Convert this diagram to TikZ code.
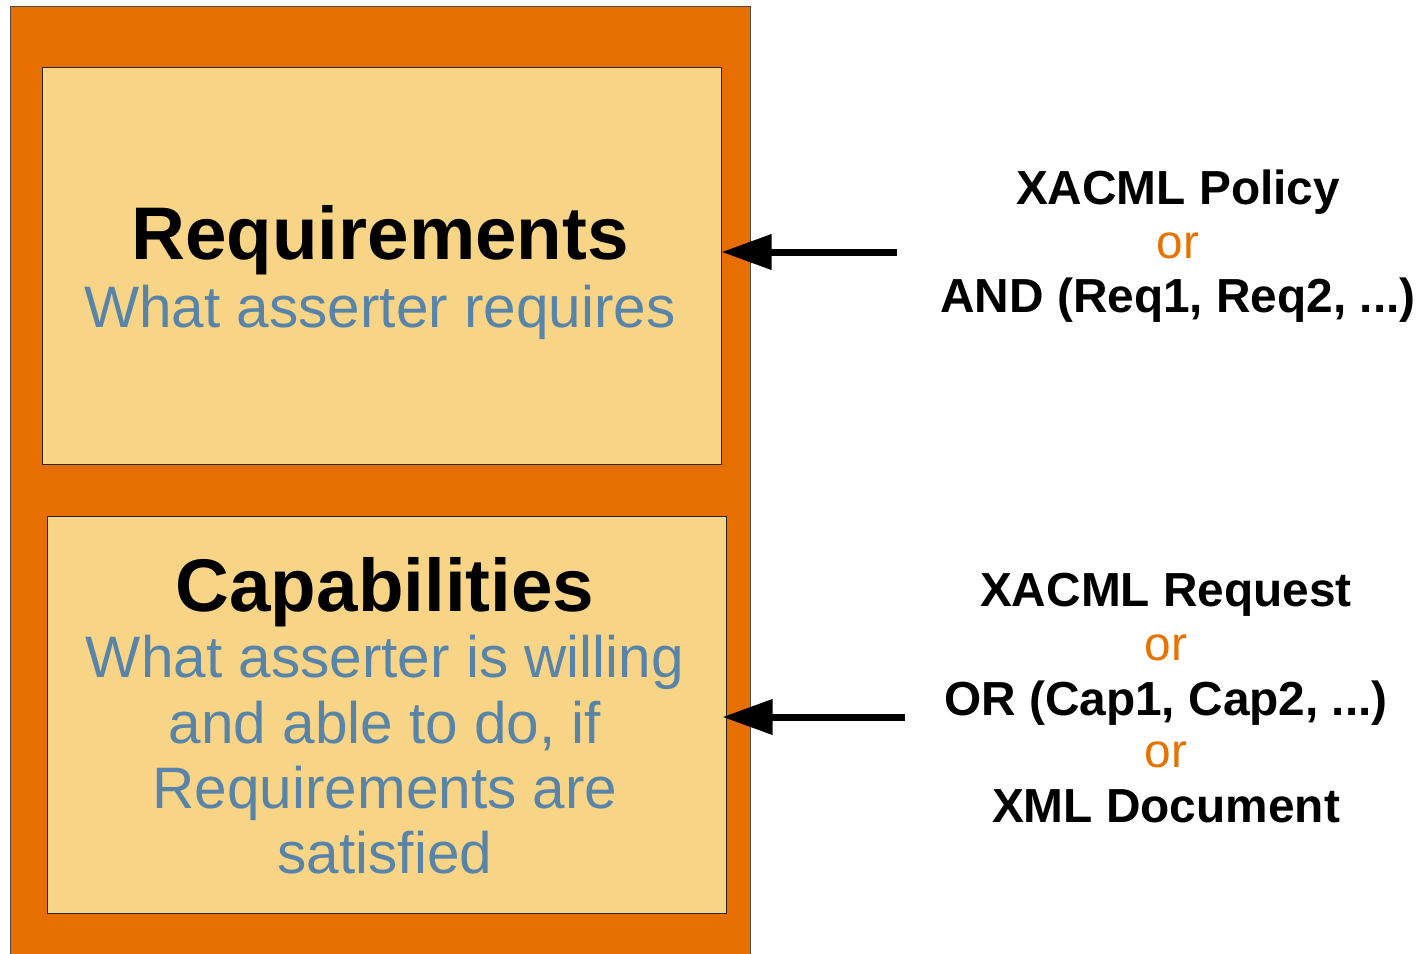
\documentclass[tikz,border=0pt]{standalone}
\usepackage{fontspec}
\setmainfont{Liberation Sans}
\usetikzlibrary{arrows.meta}

\definecolor{frameorange}{HTML}{E66F00}
\definecolor{panelfill}{HTML}{F8D586}
\definecolor{notetext}{HTML}{5784A8}
\definecolor{ortext}{HTML}{E67300}

\tikzset{
  panel/.style={draw=black!85, line width=1pt, fill=panelfill, inner sep=0pt},
  headline/.style={anchor=base, font=\fontsize{74.6}{85}\selectfont\bfseries, text=black, inner sep=0pt},
  noteline/.style={anchor=base, font=\fontsize{58.5}{66}\selectfont, text=notetext, inner sep=0pt},
  srcline/.style={anchor=base, font=\fontsize{47.8}{54}\selectfont\bfseries, text=black, inner sep=0pt},
  orline/.style={anchor=base, font=\fontsize{47.8}{54}\selectfont, text=ortext, inner sep=0pt},
  feed/.style={line width=7pt, -{Triangle[length=50pt,width=34pt]}}
}

\begin{document}
\begin{tikzpicture}[x=1pt, y=-1pt]
  \useasboundingbox (0,0) rectangle (1420,953);
  \fill[white] (0,0) rectangle (1420,953);

  % outer frame (runs past the lower edge)
  \draw[draw=black!70, line width=1pt, fill=frameorange] (10,6) rectangle (750,980);

  % the two panels
  \node[panel, minimum width=679pt, minimum height=397pt] (box1) at (381.5,265.5) {};
  \node[panel, minimum width=679pt, minimum height=397pt] (box2) at (386.5,714.5) {};

  % panel texts
  \node[headline] (reqhead) at (380,259) {Requirements};
  \node[noteline] (reqnote) at (380,327) {What asserter requires};

  \node[headline] (caphead) at (385,611) {Capabilities};
  \node[noteline] (capnote1) at (385,677) {What asserter is willing};
  \node[noteline] (capnote2) at (385,743) {and able to do, if};
  \node[noteline] (capnote3) at (385,808) {Requirements are};
  \node[noteline] (capnote4) at (385,873) {satisfied};

  % sources on the right
  \node[srcline] (pol) at (1178,204) {XACML Policy};
  \node[orline]  (or1) at (1178,258) {or};
  \node[srcline] (andreq) at (1178,312) {AND (Req1, Req2, ...)};

  \node[srcline] (reqst) at (1166,606) {XACML Request};
  \node[orline]  (or2) at (1166,660) {or};
  \node[srcline] (orcap) at (1166,715) {OR (Cap1, Cap2, ...)};
  \node[orline]  (or3) at (1166,767) {or};
  \node[srcline] (xmldoc) at (1166,822) {XML Document};

  % arrows into the panels
  \coordinate (a1) at (897,252);
  \coordinate (a2) at (905,717);
  \draw[feed] (a1) -- (a1 -| box1.east);
  \draw[feed] (a2) -- ([xshift=-4pt]a2 -| box2.east);
\end{tikzpicture}
\end{document}
